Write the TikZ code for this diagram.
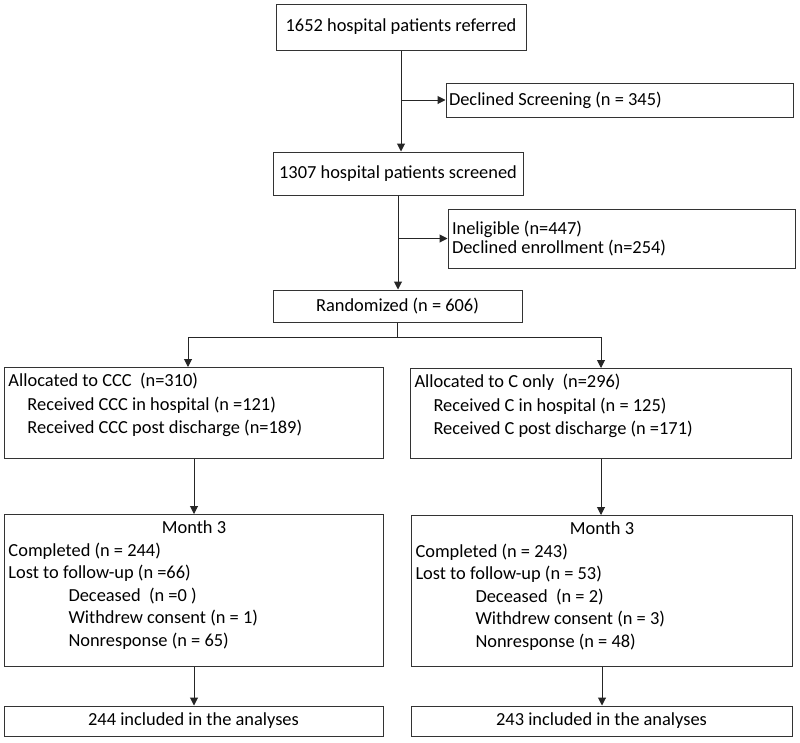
\documentclass[tikz,border=0pt]{standalone}
\usepackage{fontspec}
\setmainfont{Carlito}
\usetikzlibrary{arrows.meta}

% Texto alineado arriba dentro de una caja de alto fijo
\newcommand{\textocaja}[3]{\parbox[c][#1][t]{#2}{\raggedright\rule{0pt}{19pt}#3}}

\tikzset{
  caja/.style={draw=black!80, line width=1pt, inner sep=0pt,
    font=\fontsize{18.4}{22.5}\selectfont},
  flecha/.style={draw=black!85, line width=1pt, -{Triangle[width=8pt,length=8pt]}},
  linea/.style={draw=black!85, line width=1pt}
}

\begin{document}
\begin{tikzpicture}[x=1pt, y=-1pt]
    \useasboundingbox (0,0) rectangle (800,742);
    % Definir la sangria de las lineas interiores
    \def\sa{19pt}
    \def\sb{60pt}

    % Cajas de la columna central
    \node[caja, minimum width=250pt, minimum height=46pt] (ref) at (401,27)
        {1652 hospital patients referred};
    \node[caja, minimum width=250pt, minimum height=43pt] (scr) at (398,173.5)
        {1307 hospital patients screened};
    \node[caja, minimum width=249pt, minimum height=32pt] (rand) at (397.5,306)
        {Randomized (n = 606)};

    % Cajas de exclusion a la derecha
    \node[caja, minimum width=347pt, minimum height=34pt] (decl) at (619.5,100)
        {\parbox{341pt}{\raggedright Declined Screening (n = 345)}};
    \node[caja, minimum width=347pt, minimum height=59pt,
        font=\fontsize{18.4}{18.5}\selectfont] (inel) at (621.5,238.5)
        {\parbox{339pt}{\raggedright Ineligible (n=447)\\Declined enrollment (n=254)}};

    % Cajas de asignacion
    \node[caja, anchor=north west, inner xsep=4pt, font=\fontsize{18.4}{23.5}\selectfont]
        (allocL) at (4,367) {\textocaja{91pt}{371pt}{%
        Allocated to CCC~ (n=310)\\
        \hspace*{\sa}Received CCC in hospital (n =121)\\
        \hspace*{\sa}Received CCC post discharge (n=189)}};
    \node[caja, anchor=north west, inner xsep=4pt, font=\fontsize{18.4}{23.5}\selectfont]
        (allocR) at (410,368) {\textocaja{90pt}{373pt}{%
        Allocated to C only~ (n=296)\\
        \hspace*{\sa}Received C in hospital (n = 125)\\
        \hspace*{\sa}Received C post discharge (n =171)}};

    % Cajas del seguimiento a los 3 meses
    \node[caja, anchor=north west, inner xsep=4pt] (monthL) at (4,514)
        {\textocaja{152pt}{371pt}{%
        \makebox[\linewidth]{Month 3}\\
        Completed (n = 244)\\
        Lost to follow-up (n =66)\\
        \hspace*{\sb}Deceased~ (n =0 )\\
        \hspace*{\sb}Withdrew consent (n = 1)\\
        \hspace*{\sb}Nonresponse (n = 65)}};
    \node[caja, anchor=north west, inner xsep=4pt] (monthR) at (411,515)
        {\textocaja{151pt}{373pt}{%
        \makebox[\linewidth]{Month 3}\\
        Completed (n = 243)\\
        Lost to follow-up (n = 53)\\
        \hspace*{\sb}Deceased~ (n = 2)\\
        \hspace*{\sb}Withdrew consent (n = 3)\\
        \hspace*{\sb}Nonresponse (n = 48)}};

    % Cajas finales
    \node[caja, minimum width=379pt, minimum height=30pt] (finL) at (193.5,721)
        {244 included in the analyses};
    \node[caja, minimum width=381pt, minimum height=30pt] (finR) at (601.5,721)
        {243 included in the analyses};

    % Flechas de la columna central
    \draw[flecha] (ref.south) -- (ref.south |- scr.north);
    \draw[flecha] (ref.south |- decl.west) -- (decl.west);
    \draw[flecha] (scr.south) -- (scr.south |- rand.north);
    \draw[flecha] (scr.south |- inel.west) -- (inel.west);

    % Division en dos ramas
    \coordinate (split) at ([yshift=-15pt]rand.south);
    \draw[linea] (rand.south) -- (split);
    \draw[flecha] (split) -| ([xshift=-6pt]allocL.north);
    \draw[flecha] (split) -| (allocR.north);

    % Flechas de cada rama
    \draw[flecha] (allocL.south) -- (allocL.south |- monthL.north);
    \draw[flecha] (allocR.south) -- (allocR.south |- monthR.north);
    \draw[flecha] (monthL.south) -- (monthL.south |- finL.north);
    \draw[flecha] (monthR.south) -- (monthR.south |- finR.north);
\end{tikzpicture}
\end{document}
